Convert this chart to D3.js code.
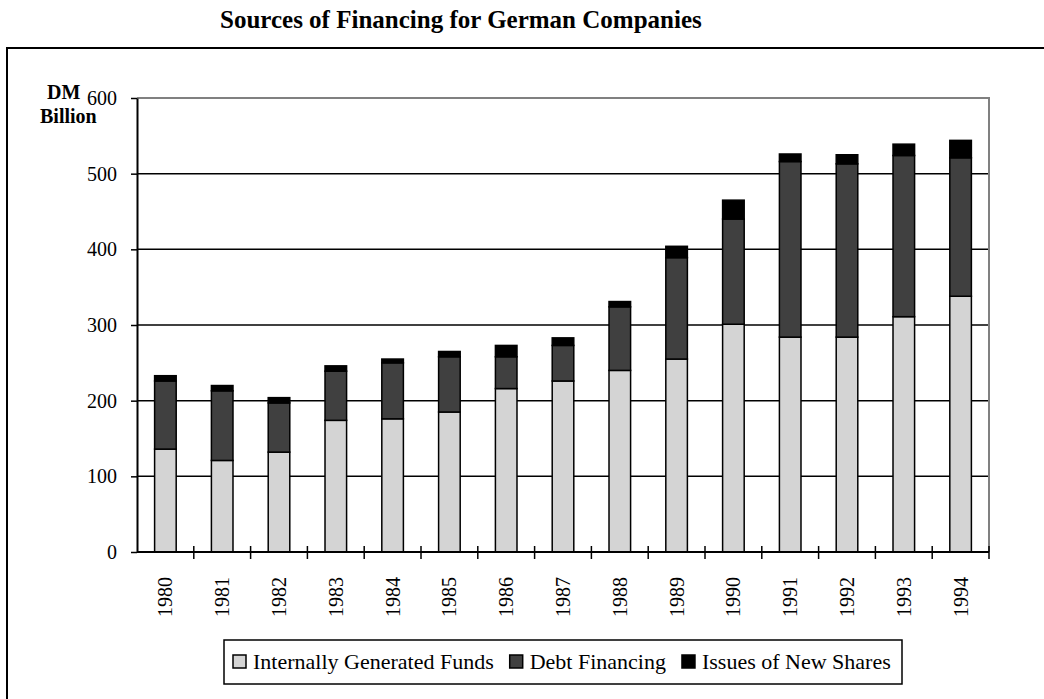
<!DOCTYPE html>
<html>
<head>
<meta charset="utf-8">
<script src="https://cdn.jsdelivr.net/npm/d3@7"></script>
<style>
  body { margin: 0; background: #fff; }
  svg { display: block; }
  text { font-family: "Liberation Serif", "Times New Roman", serif; fill: #000; }
</style>
</head>
<body>
<div id="chart"></div>
<script>
const years = ['1980', '1981', '1982', '1983', '1984', '1985', '1986', '1987',
  '1988', '1989', '1990', '1991', '1992', '1993', '1994'];
const internalFunds = [136, 121, 132, 174, 176, 185, 216, 226, 240, 255, 301, 284, 284, 311, 338];
const debtFinancing = [90, 92, 65, 65, 74, 73, 42, 47, 84, 134, 139, 232, 229, 213, 183];
const newShares = [7, 7, 7, 7, 5, 7, 15, 10, 7, 15, 25, 10, 12, 15, 23];
const seriesNames = ['Internally Generated Funds', 'Debt Financing', 'Issues of New Shares'];
const yTicks = [0, 100, 200, 300, 400, 500, 600];

const config = {
  width: 1044,
  height: 699,
  plot: { left: 137, right: 989, top: 98, bottom: 552 },
  colors: ['#d4d4d4', '#404040', '#000000']
};

const rows = years.map((year, i) => ({
  year: year,
  [seriesNames[0]]: internalFunds[i],
  [seriesNames[1]]: debtFinancing[i],
  [seriesNames[2]]: newShares[i]
}));

const svg = d3.select('#chart')
  .append('svg')
  .attr('width', config.width)
  .attr('height', config.height);

// title
svg.append('text')
  .attr('x', 220)
  .attr('y', 28)
  .attr('font-weight', 'bold')
  .attr('font-size', 25)
  .text('Sources of Financing for German Companies');

// outer chart frame (runs off the right and bottom edges)
svg.append('rect')
  .attr('x', 7)
  .attr('y', 48)
  .attr('width', 1100)
  .attr('height', 700)
  .attr('fill', 'none')
  .attr('stroke', '#000')
  .attr('stroke-width', 2);

const x = d3.scaleBand()
  .domain(years)
  .range([config.plot.left, config.plot.right])
  .paddingInner(0.62)
  .paddingOuter(0.31);

const y = d3.scaleLinear()
  .domain([0, 600])
  .range([config.plot.bottom, config.plot.top]);

// gridlines
svg.append('g')
  .selectAll('line')
  .data(yTicks.filter(d => d > 0 && d < 600))
  .enter()
  .append('line')
  .attr('x1', config.plot.left)
  .attr('x2', config.plot.right)
  .attr('y1', d => y(d))
  .attr('y2', d => y(d))
  .attr('stroke', '#000')
  .attr('stroke-width', 1.5);

// plot area border, top and right
svg.append('path')
  .attr('d', `M${config.plot.left},${y(600)}H${config.plot.right}V${y(0)}`)
  .attr('fill', 'none')
  .attr('stroke', '#808080')
  .attr('stroke-width', 2);

// stacked bars
const stacked = d3.stack().keys(seriesNames)(rows);

svg.append('g')
  .selectAll('g')
  .data(stacked)
  .enter()
  .append('g')
  .attr('fill', (d, i) => config.colors[i])
  .selectAll('rect')
  .data(d => d)
  .enter()
  .append('rect')
  .attr('x', d => x(d.data.year))
  .attr('width', x.bandwidth())
  .attr('y', d => y(d[1]))
  .attr('height', d => y(d[0]) - y(d[1]))
  .attr('stroke', '#000')
  .attr('stroke-width', 1.5);

// y axis
const yAxis = svg.append('g')
  .attr('transform', `translate(${config.plot.left},0)`)
  .call(d3.axisLeft(y).tickValues(yTicks).tickSize(6).tickPadding(14).tickSizeOuter(0));
yAxis.select('.domain').attr('stroke', '#000').attr('stroke-width', 2);
yAxis.selectAll('.tick line').attr('stroke', '#000').attr('stroke-width', 1.5);
yAxis.selectAll('.tick text')
  .attr('font-family', '"Liberation Serif", serif')
  .attr('font-size', 20)
  .attr('fill', '#000');

// x axis with crossing ticks on category boundaries
const xAxisG = svg.append('g')
  .attr('transform', `translate(0,${config.plot.bottom})`);
xAxisG.append('line')
  .attr('x1', config.plot.left)
  .attr('x2', config.plot.right)
  .attr('stroke', '#000')
  .attr('stroke-width', 2);
const boundaries = years.map(d => x(d) - x.step() * x.paddingInner() / 2)
  .concat([config.plot.right]);
xAxisG.selectAll('.bound')
  .data(boundaries.slice(1))
  .enter()
  .append('line')
  .attr('x1', d => d)
  .attr('x2', d => d)
  .attr('y1', -6)
  .attr('y2', 7)
  .attr('stroke', '#000')
  .attr('stroke-width', 1.5);
xAxisG.selectAll('.year')
  .data(years)
  .enter()
  .append('text')
  .attr('transform', d => `translate(${x(d) + x.bandwidth() / 2},25) rotate(-90)`)
  .attr('text-anchor', 'end')
  .attr('dy', '0.35em')
  .attr('font-size', 20)
  .text(d => d);

// y axis title
svg.append('text')
  .attr('x', 47)
  .attr('y', 99)
  .attr('font-weight', 'bold')
  .attr('font-size', 20)
  .text('DM');
svg.append('text')
  .attr('x', 40)
  .attr('y', 123)
  .attr('font-weight', 'bold')
  .attr('font-size', 20)
  .text('Billion');

// legend
const legend = svg.append('g');
legend.append('rect')
  .attr('x', 224)
  .attr('y', 640)
  .attr('width', 678)
  .attr('height', 44)
  .attr('fill', '#fff')
  .attr('stroke', '#000')
  .attr('stroke-width', 1.5);

let cursor = 233;
seriesNames.forEach((name, i) => {
  legend.append('rect')
    .attr('x', cursor)
    .attr('y', 655)
    .attr('width', 13)
    .attr('height', 13)
    .attr('fill', config.colors[i])
    .attr('stroke', '#000')
    .attr('stroke-width', 1.5);
  const label = legend.append('text')
    .attr('x', cursor + 20)
    .attr('y', 669)
    .attr('font-size', 22)
    .text(name);
  cursor += 20 + label.node().getComputedTextLength() + 16;
});
</script>
</body>
</html>
